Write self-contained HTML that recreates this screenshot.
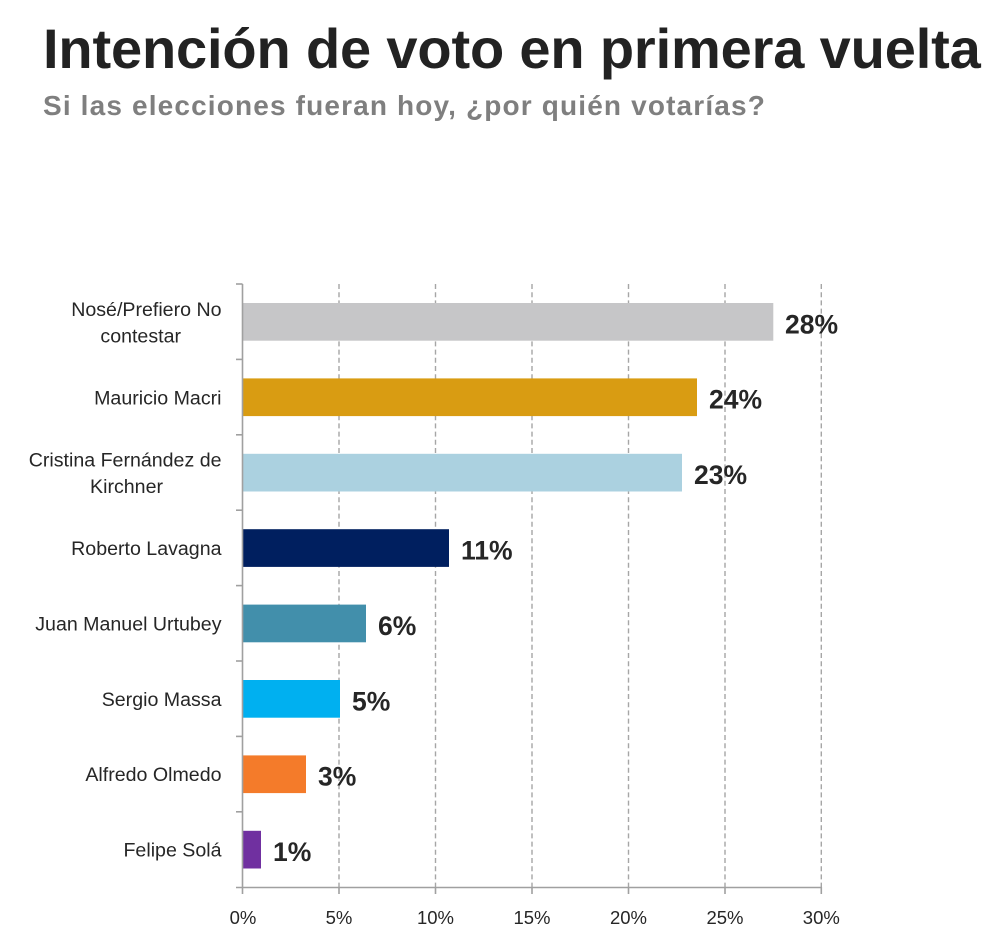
<!DOCTYPE html>
<html>
<head>
<meta charset="utf-8">
<style>
html,body{margin:0;padding:0;background:#fff;}
body{width:993px;height:951px;overflow:hidden;}
svg{display:block;}
text{font-family:"Liberation Sans",Arial,sans-serif;}
</style>
</head>
<body>
<svg width="993" height="951" viewBox="0 0 993 951" xmlns="http://www.w3.org/2000/svg">
  <rect width="993" height="951" fill="#fff"/>
  <!-- Title -->
  <text x="43" y="68" font-size="56" font-weight="bold" fill="#222222" letter-spacing="-0.15">Intención de voto en primera vuelta</text>
  <text x="43" y="115" font-size="28" font-weight="bold" fill="#7f7f7f" letter-spacing="1.15">Si las elecciones fueran hoy, ¿por quién votarías?</text>

  <!-- Gridlines -->
  <g stroke="#a6a6a6" stroke-width="1.4" stroke-dasharray="5,3.2">
    <line x1="339" y1="284" x2="339" y2="887"/>
    <line x1="435.5" y1="284" x2="435.5" y2="887"/>
    <line x1="532" y1="284" x2="532" y2="887"/>
    <line x1="628.5" y1="284" x2="628.5" y2="887"/>
    <line x1="725" y1="284" x2="725" y2="887"/>
    <line x1="821.3" y1="284" x2="821.3" y2="887"/>
  </g>

  <!-- Bars -->
  <rect x="242" y="303" width="531.3" height="37.7" fill="#c6c6c8"/>
  <rect x="242" y="378.4" width="455" height="37.7" fill="#d99c12"/>
  <rect x="242" y="453.8" width="440" height="37.7" fill="#abd1e0"/>
  <rect x="242" y="529.2" width="207" height="37.7" fill="#001f5f"/>
  <rect x="242" y="604.6" width="124" height="37.7" fill="#428fab"/>
  <rect x="242" y="680" width="98" height="37.7" fill="#00b0f0"/>
  <rect x="242" y="755.4" width="64" height="37.7" fill="#f47b2a"/>
  <rect x="242" y="830.8" width="19" height="37.7" fill="#7030a0"/>

  <!-- Axes -->
  <g stroke="#a0a0a0" stroke-width="1.6" fill="none">
    <line x1="242.5" y1="284" x2="242.5" y2="887.5"/>
    <line x1="236" y1="887.5" x2="822" y2="887.5"/>
    <line x1="236" y1="284" x2="242.5" y2="284"/>
    <line x1="236" y1="359.4" x2="242.5" y2="359.4"/>
    <line x1="236" y1="434.8" x2="242.5" y2="434.8"/>
    <line x1="236" y1="510.2" x2="242.5" y2="510.2"/>
    <line x1="236" y1="585.6" x2="242.5" y2="585.6"/>
    <line x1="236" y1="661" x2="242.5" y2="661"/>
    <line x1="236" y1="736.4" x2="242.5" y2="736.4"/>
    <line x1="236" y1="811.8" x2="242.5" y2="811.8"/>
    <line x1="242.5" y1="887" x2="242.5" y2="894"/>
    <line x1="339" y1="887" x2="339" y2="894"/>
    <line x1="435.5" y1="887" x2="435.5" y2="894"/>
    <line x1="532" y1="887" x2="532" y2="894"/>
    <line x1="628.5" y1="887" x2="628.5" y2="894"/>
    <line x1="725" y1="887" x2="725" y2="894"/>
    <line x1="821.3" y1="887" x2="821.3" y2="894"/>
  </g>

  <!-- X tick labels -->
  <g font-size="18.5" fill="#262626" text-anchor="middle">
    <text x="243" y="924">0%</text>
    <text x="339" y="924">5%</text>
    <text x="435.5" y="924">10%</text>
    <text x="532" y="924">15%</text>
    <text x="628.5" y="924">20%</text>
    <text x="725" y="924">25%</text>
    <text x="821.3" y="924">30%</text>
  </g>

  <!-- Category labels -->
  <g font-size="19.6" fill="#262626" text-anchor="end">
    <text x="221.5" y="316">Nosé/Prefiero No</text>
    <text x="181" y="342.7">contestar</text>
    <text x="221.5" y="404.4">Mauricio Macri</text>
    <text x="221.5" y="466.5">Cristina Fernández de</text>
    <text x="163" y="493.2">Kirchner</text>
    <text x="221.5" y="555">Roberto Lavagna</text>
    <text x="221.5" y="630.4">Juan Manuel Urtubey</text>
    <text x="221.5" y="705.8">Sergio Massa</text>
    <text x="221.5" y="781.2">Alfredo Olmedo</text>
    <text x="221.5" y="856.6">Felipe Solá</text>
  </g>

  <!-- Value labels -->
  <g font-size="26.5" font-weight="bold" fill="#262626">
    <text x="785" y="333.3">28%</text>
    <text x="709" y="408.7">24%</text>
    <text x="694" y="484.1">23%</text>
    <text x="461" y="559.5">11%</text>
    <text x="378" y="634.9">6%</text>
    <text x="352" y="710.3">5%</text>
    <text x="318" y="785.7">3%</text>
    <text x="273" y="861.1">1%</text>
  </g>
</svg>
</body>
</html>
